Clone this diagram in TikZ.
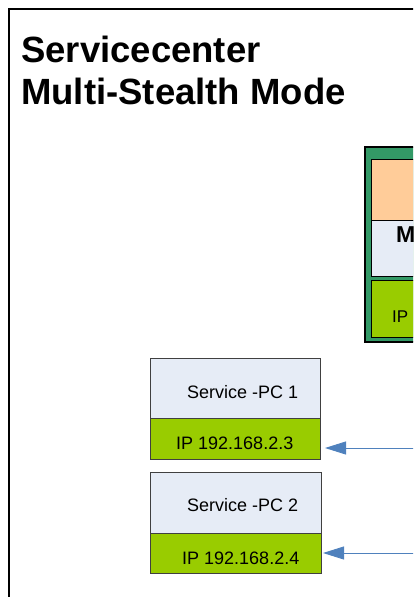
\documentclass[tikz,border=0pt]{standalone}
\usepackage{fontspec}
\setmainfont{Liberation Sans}
\usetikzlibrary{arrows.meta}
\definecolor{pcgrey}{RGB}{230,236,246}
\definecolor{ipgreen}{RGB}{153,204,0}
\definecolor{hubgreen}{RGB}{51,153,102}
\definecolor{huborange}{RGB}{255,204,153}
\definecolor{feedblue}{RGB}{79,129,189}
\tikzstyle{box}=[rectangle, draw=black!75, line width=.8pt, inner sep=0pt, outer sep=0pt]
\tikzstyle{pc}=[box, fill=pcgrey, minimum width=170pt]
\tikzstyle{ip}=[box, fill=ipgreen, minimum width=170pt]
\tikzstyle{boxtext}=[anchor=base west, inner sep=0pt, font=\fontsize{18}{18}\selectfont]
\tikzstyle{titletext}=[anchor=base west, inner sep=0pt, font=\fontsize{36.5}{42}\selectfont\bfseries]
\tikzstyle{feed}=[-{Triangle[length=21pt,width=13pt]}, line width=.9pt, color=feedblue]

\begin{document}
\begin{tikzpicture}[x=1pt,y=1pt]
  \useasboundingbox (0,0) rectangle (413,-597);
  \clip (0,0) rectangle (413,-597);
  % frame
  \draw[line width=2pt] (9,-9) rectangle (440,-620);
  \draw (21,-62) node[titletext] (title1) {Servicecenter};
  \draw (21,-104) node[titletext] (title2) {Multi-Stealth Mode};

  %% hub on the right
  \draw (402.5,-244.5) node[box, draw=black, line width=1.3pt, fill=hubgreen, minimum width=75pt, minimum height=195pt] (hub) {};
  \draw (405.5,-189.5) node[box, draw=black, fill=huborange, minimum width=69pt, minimum height=61pt] (hubtop) {};
  \draw (405.5,-248) node[box, draw=black, fill=pcgrey, minimum width=69pt, minimum height=56pt] (hubmid) {};
  \draw (405.5,-308.5) node[box, draw=black, fill=ipgreen, minimum width=69pt, minimum height=57pt] (hubip) {};
  \draw (396,-242) node[boxtext, font=\fontsize{23}{23}\selectfont\bfseries] (hubname) {M};
  \draw (392,-322) node[boxtext, font=\fontsize{17}{17}\selectfont] (hubiptext) {IP};

  %% service PCs
  \draw (235,-388) node[pc, minimum height=60pt] (pc1) {};
  \draw (235,-438.5) node[ip, minimum height=41pt] (pc1ip) {};
  \draw (235.5,-502.5) node[pc, minimum width=171pt, minimum height=61pt] (pc2) {};
  \draw (235.5,-553) node[ip, minimum width=171pt, minimum height=40pt] (pc2ip) {};

  \draw (187,-398) node[boxtext] (pc1name) {Service -PC 1};
  \draw (176,-449) node[boxtext] (pc1iptext) {IP 192.168.2.3};
  \draw (187,-511) node[boxtext] (pc2name) {Service -PC 2};
  \draw (182,-564) node[boxtext] (pc2iptext) {IP 192.168.2.4};

  %% links
  \coordinate (feed1) at (440,-448);
  \coordinate (feed2) at (440,-553);
  \draw[feed, shorten >=5pt] (feed1) -- (pc1ip.east |- feed1);
  \draw[feed, shorten >=2pt] (feed2) -- (pc2ip.east |- feed2);
\end{tikzpicture}
\end{document}
